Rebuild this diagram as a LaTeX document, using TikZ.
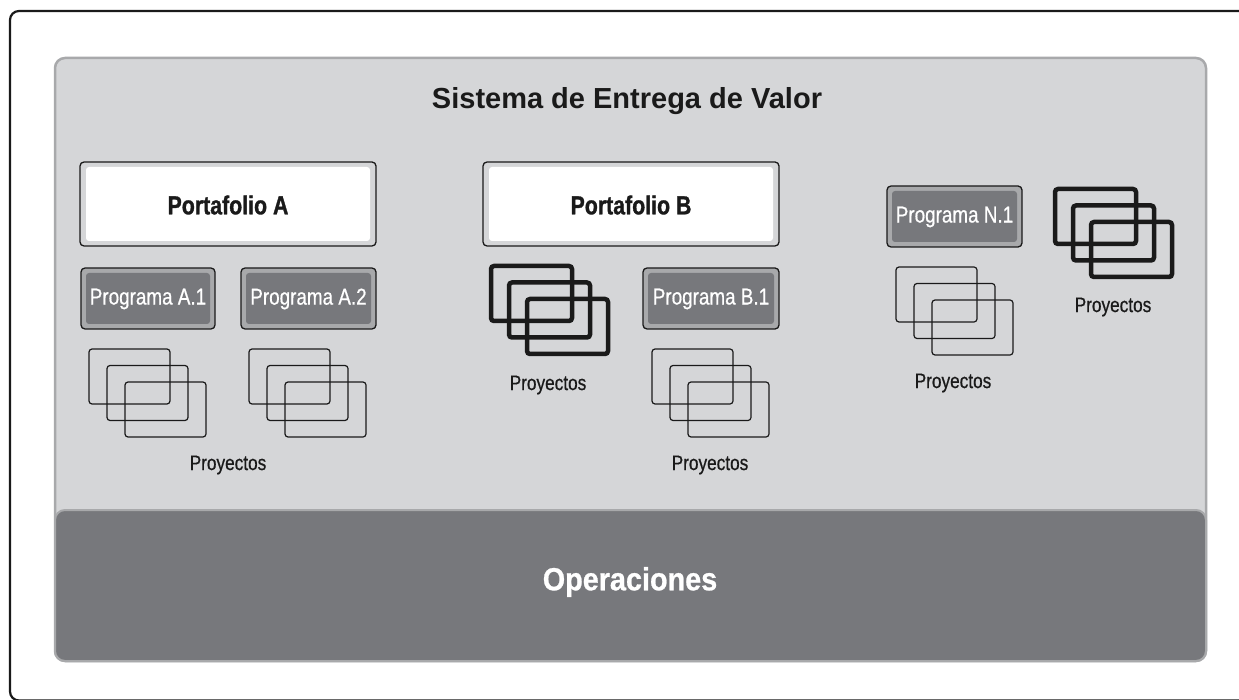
\documentclass[tikz,border=0pt]{standalone}
\usepackage{fontspec}
\setmainfont{Liberation Sans}
\newfontfamily\condfont{Liberation Sans}[FakeStretch=0.82, FakeBold=0.6]
\newfontfamily\condboldfont{Liberation Sans Bold}[FakeStretch=0.82, FakeBold=1.2]
\newfontfamily\opfont{Liberation Sans Bold}[FakeStretch=0.9, FakeBold=0.8]
\usepackage{tikz}
\usepackage{xcolor}
\definecolor{panelgray}{HTML}{D5D6D8}
\definecolor{rimgray}{HTML}{A8A9AB}
\definecolor{darkgray}{HTML}{77787C}
\definecolor{inkgray}{HTML}{1A1A1A}
% pila de proyectos: #1 grosor, (#2,#3) esquina superior izquierda
\newcommand\pila[3][1.2pt]{
  \foreach \k in {0,1,2}{
    \draw[inkgray, line width=#1, rounded corners=3] (#2+18*\k, #3+16.5*\k) rectangle ++(81,55);
  }
}
\tikzset{
  portbox/.style={draw=inkgray, line width=1.3pt, fill=panelgray, rounded corners=4},
  progbox/.style={draw=inkgray, line width=1.3pt, fill=rimgray, rounded corners=4},
  porttext/.style={font=\condboldfont\fontsize{26}{28}\selectfont, text=inkgray},
  progtext/.style={font=\condfont\fontsize{23}{26}\selectfont, text=white},
  proytext/.style={font=\condfont\fontsize{21}{23}\selectfont, text=inkgray}
}
\begin{document}
\begin{tikzpicture}[x=1pt, y=-1pt]
  \clip (0,0) rectangle (1239,700);
  \fill[white] (0,0) rectangle (1239,700);
  % marco exterior
  \draw[inkgray, line width=2.2pt, rounded corners=9] (10,11) rectangle (1260,700.5);
  % sistema
  \draw[rimgray, fill=panelgray, line width=2.5pt, rounded corners=10] (55,58) rectangle (1206,661);
  \draw[rimgray, fill=darkgray, line width=2pt, rounded corners=10] (55,510) rectangle (1206,661);
  \node[font=\bfseries\fontsize{29}{32}\selectfont, text=inkgray] (titulo) at (627,101) {Sistema de Entrega de Valor};
  \node[font=\opfont\fontsize{32}{35}\selectfont, text=white] (oper) at (630,582) {Operaciones};
  % portafolios
  \draw[portbox] (80,162) rectangle (376,246);
  \fill[white, rounded corners=3] (86,167) rectangle (370,241);
  \node[porttext] (portA) at (228,205) {Portafolio A};
  \draw[portbox] (483,162) rectangle (779,246);
  \fill[white, rounded corners=3] (489,167) rectangle (773,241);
  \node[porttext] (portB) at (631,205) {Portafolio B};
  % programas
  \draw[progbox] (81,268) rectangle (215,329);
  \fill[darkgray, rounded corners=3] (86,273) rectangle (210,324);
  \node[progtext] (progA1) at (148,299) {Programa A.1};
  \draw[progbox] (241,268) rectangle (376,329);
  \fill[darkgray, rounded corners=3] (246,273) rectangle (371,324);
  \node[progtext] (progA2) at (308.5,299) {Programa A.2};
  \draw[progbox] (643,268) rectangle (779,329);
  \fill[darkgray, rounded corners=3] (648,273) rectangle (774,324);
  \node[progtext] (progB1) at (711,299) {Programa B.1};
  \draw[progbox] (887,186) rectangle (1022,247);
  \fill[darkgray, rounded corners=3] (892,191) rectangle (1017,242);
  \node[progtext] (progN1) at (954.5,217) {Programa N.1};
  % proyectos
  \pila{89}{349}
  \pila{249}{349}
  \node[proytext] (proyA) at (228,465) {Proyectos};
  \pila[4.5pt]{491}{266}
  \node[proytext] (proyB) at (548,385) {Proyectos};
  \pila{652}{349}
  \node[proytext] (proyB1) at (710,465) {Proyectos};
  \pila{896}{267}
  \node[proytext] (proyN1) at (953,383) {Proyectos};
  \pila[4.5pt]{1055}{189}
  \node[proytext] (proyN) at (1113,307) {Proyectos};
\end{tikzpicture}
\end{document}
